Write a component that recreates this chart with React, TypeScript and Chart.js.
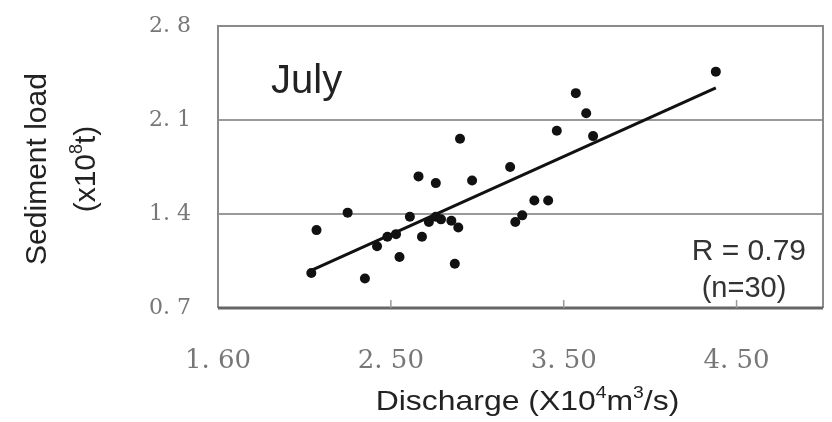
import React, { useEffect, useRef } from "react";
import { Chart, registerables } from "chart.js";

Chart.register(...registerables);

// Discharge (x10^4 m3/s) and sediment load (x10^8 t), July, n = 30
const discharge = [
  3.57, 3.63, 3.46, 3.67, 2.9, 3.19, 2.66, 2.76, 2.97, 3.33,
  3.41, 3.26, 3.22, 2.25, 2.07, 2.61, 2.72, 2.79, 2.85, 2.89,
  2.68, 2.53, 2.48, 2.42, 2.55, 2.87, 2.04, 2.35, 4.38, 2.76,
];
const sediment = [
  2.3, 2.15, 2.02, 1.98, 1.96, 1.75, 1.68, 1.63, 1.65, 1.5,
  1.5, 1.39, 1.34, 1.41, 1.28, 1.38, 1.34, 1.36, 1.35, 1.3,
  1.23, 1.25, 1.23, 1.16, 1.08, 1.03, 0.96, 0.92, 2.46, 1.38,
];
// regression line end points
const trendX = [2.04, 4.38];
const trendY = [0.98, 2.34];

const xTicks = [1.5, 2.5, 3.5, 4.5];
const xTickLabels = ["1. 60", "2. 50", "3. 50", "4. 50"];
const yTicks = [0.7, 1.4, 2.1, 2.8];
const yTickLabels = ["0. 7", "1. 4", "2. 1", "2. 8"];

const panelLabel = "July";
const statLine1 = "R = 0.79";
const statLine2 = "(n=30)";
const yTitle1 = [{ t: "Sediment load" }];
const yTitle2 = [{ t: "(x10" }, { t: "8", sup: true }, { t: "t)" }];
const xTitle = [{ t: "Discharge (X10" }, { t: "4", sup: true }, { t: "m" }, { t: "3", sup: true }, { t: "/s)" }];

type Part = { t: string; sup?: boolean };

function drawRich(ctx: CanvasRenderingContext2D, parts: Part[], size: number, family: string) {
  // draws centered at (0, 0) baseline
  const supSize = Math.round(size * 0.6);
  let total = 0;
  const widths = parts.map((p) => {
    ctx.font = `${p.sup ? supSize : size}px ${family}`;
    const w = ctx.measureText(p.t).width;
    total += w;
    return w;
  });
  let x = -total / 2;
  parts.forEach((p, i) => {
    ctx.font = `${p.sup ? supSize : size}px ${family}`;
    ctx.textAlign = "left";
    ctx.textBaseline = "alphabetic";
    ctx.fillText(p.t, x, p.sup ? -size * 0.42 : 0);
    x += widths[i];
  });
}

const decor = {
  id: "decor",
  beforeDatasetsDraw(chart: any) {
    const { ctx, chartArea } = chart;
    const { left, right, top, bottom } = chartArea;
    ctx.save();
    ctx.strokeStyle = "#8a8a8a";
    ctx.lineWidth = 2;
    ctx.beginPath();
    ctx.moveTo(left, bottom);
    ctx.lineTo(left, top);
    ctx.lineTo(right, top);
    ctx.lineTo(right, bottom);
    ctx.stroke();
    ctx.strokeStyle = "#666";
    ctx.lineWidth = 3;
    ctx.beginPath();
    ctx.moveTo(left, bottom);
    ctx.lineTo(right, bottom);
    ctx.stroke();
    // inner tick marks
    const xs = chart.scales.x;
    ctx.strokeStyle = "#999";
    ctx.lineWidth = 1.5;
    xTicks.slice(1).forEach((v) => {
      const px = xs.getPixelForValue(v);
      ctx.beginPath();
      ctx.moveTo(px, bottom);
      ctx.lineTo(px, bottom - 8);
      ctx.stroke();
    });
    ctx.restore();
  },
  afterDraw(chart: any) {
    const { ctx, chartArea } = chart;
    const { left, right, top, bottom } = chartArea;
    const fam = '"Liberation Sans", Arial, sans-serif';
    ctx.save();
    ctx.fillStyle = "#222";
    ctx.font = `40px ${fam}`;
    ctx.textAlign = "left";
    ctx.textBaseline = "alphabetic";
    ctx.fillText(panelLabel, left + 53, top + 67);

    ctx.fillStyle = "#333";
    ctx.font = `30px ${fam}`;
    ctx.textAlign = "right";
    ctx.fillText(statLine1, right - 17, bottom - 48);
    ctx.font = `29px ${fam}`;
    ctx.textAlign = "center";
    ctx.fillText(statLine2, right - 79, bottom - 11);

    // x title
    ctx.fillStyle = "#222";
    ctx.save();
    ctx.translate((left + right) / 2 + 7, bottom + 102);
    ctx.scale(1.14, 1);
    drawRich(ctx, xTitle, 28, fam);
    ctx.restore();

    // y title (two lines)
    const cy = (top + bottom) / 2 + 2;
    ctx.save();
    ctx.translate(46, cy);
    ctx.rotate(-Math.PI / 2);
    drawRich(ctx, yTitle1, 30, fam);
    ctx.restore();
    ctx.save();
    ctx.translate(95, cy);
    ctx.rotate(-Math.PI / 2);
    drawRich(ctx, yTitle2, 30, fam);
    ctx.restore();
    ctx.restore();
  },
};

export default function App() {
  const ref = useRef<HTMLCanvasElement>(null);
  useEffect(() => {
    if (!ref.current) return;
    const points = discharge.map((x, i) => ({ x, y: sediment[i] }));
    const trend = trendX.map((x, i) => ({ x, y: trendY[i] }));
    const chart = new Chart(ref.current, {
      type: "scatter",
      data: {
        datasets: [
          {
            data: points,
            backgroundColor: "#111",
            borderWidth: 0,
            pointRadius: 5,
            order: 1,
          },
          {
            type: "line",
            data: trend,
            borderColor: "#111",
            borderWidth: 3,
            pointRadius: 0,
            showLine: true,
            fill: false,
            order: 0,
          } as any,
        ],
      },
      options: {
        animation: false,
        responsive: false,
        devicePixelRatio: 1,
        layout: { padding: { top: 26, right: 9, left: 0, bottom: 0 } },
        plugins: { legend: { display: false }, tooltip: { enabled: false } },
        scales: {
          x: {
            type: "linear",
            min: 1.5,
            max: 5.0,
            afterBuildTicks: (s: any) => {
              s.ticks = xTicks.map((v) => ({ value: v }));
            },
            afterFit: (s: any) => {
              s.height = 114;
              s.paddingLeft = 0;
              s.paddingRight = 0;
            },
            grid: { display: false },
            border: { display: false },
            ticks: {
              callback: (_v: any, i: number) => xTickLabels[i],
              font: { family: '"DejaVu Serif", serif', size: 26 },
              color: "#777",
              padding: 30,
              maxRotation: 0,
              autoSkip: false,
            },
          },
          y: {
            type: "linear",
            min: 0.7,
            max: 2.8,
            afterBuildTicks: (s: any) => {
              s.ticks = yTicks.map((v) => ({ value: v }));
            },
            afterFit: (s: any) => {
              s.width = 218;
              s.paddingTop = 0;
              s.paddingBottom = 0;
            },
            grid: {
              color: (c: any) =>
                c.tick && (c.tick.value === yTicks[0] || c.tick.value === yTicks[yTicks.length - 1])
                  ? "rgba(0,0,0,0)"
                  : "#9a9a9a",
              lineWidth: 2,
              drawTicks: false,
            },
            border: { display: false },
            ticks: {
              callback: (_v: any, i: number) => yTickLabels[i],
              font: { family: '"DejaVu Serif", serif', size: 22 },
              color: "#777",
              padding: 27,
              autoSkip: false,
            },
          },
        },
      },
      plugins: [decor],
    });
    return () => chart.destroy();
  }, []);
  return (
    <div style={{ position: "fixed", left: 0, top: 0, width: 832, height: 422, background: "#fff" }}>
      <canvas ref={ref} width={832} height={422} />
    </div>
  );
}
